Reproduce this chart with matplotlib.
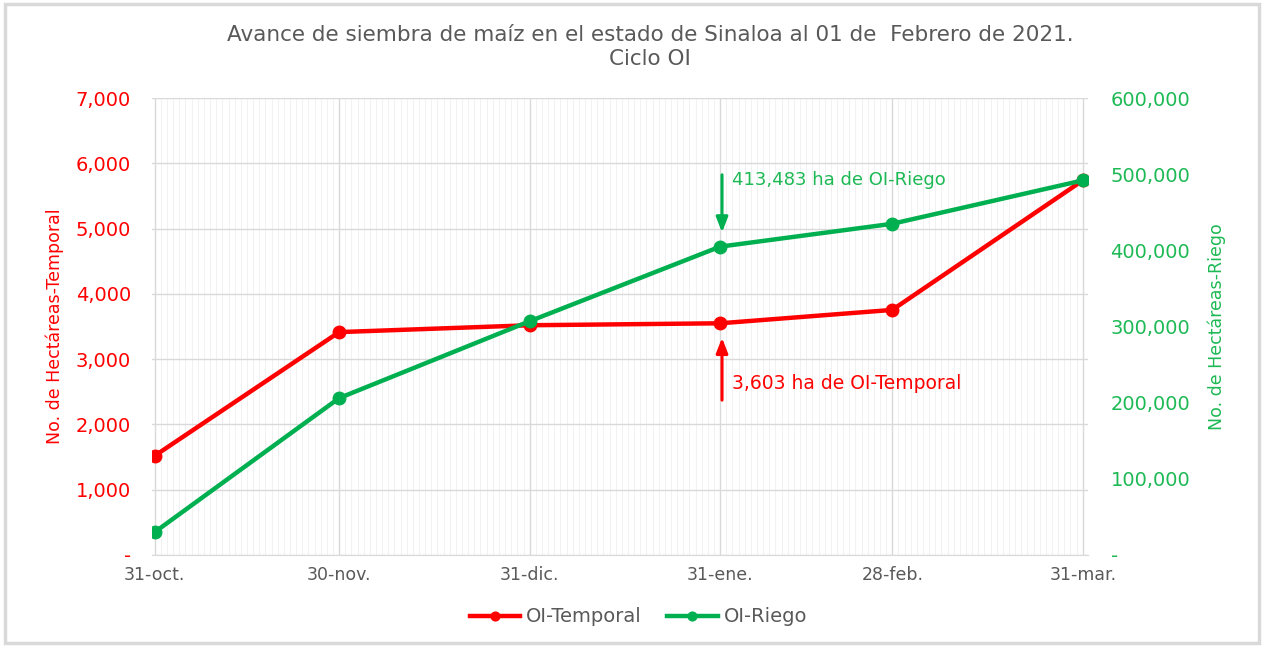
import matplotlib
matplotlib.use("Agg")
import matplotlib.pyplot as plt
import matplotlib.dates as mdates
import matplotlib.ticker as mticker
import numpy as np
import datetime as dt

plt.rcParams['font.family'] = ['DejaVu Sans']

fechas = ["2020-10-31", "2020-11-30", "2020-12-31", "2021-01-31", "2021-02-28", "2021-03-31"]
etiquetas_x = ["31-oct.", "30-nov.", "31-dic.", "31-ene.", "28-feb.", "31-mar."]
temporal = [1520, 3415, 3520, 3550, 3755, 5740]
riego = [30000, 206000, 307000, 405000, 435000, 492000]

RED = "#FF0000"
GREEN = "#00B050"
GREEN_T = "#1DB954"
GRAY_T = "#595959"

x = [dt.datetime.strptime(f, "%Y-%m-%d") for f in fechas]

fig = plt.figure(figsize=(12.64, 6.46), dpi=100)
fig.patches.append(plt.Rectangle((0.004, 0.004), 0.992, 0.99, transform=fig.transFigure,
                                 fill=False, edgecolor="#D9D9D9", linewidth=2.5))
ax = fig.add_axes([0.120, 0.141, 0.741, 0.707])
ax2 = ax.twinx()

ax.set_xlim(x[0] - dt.timedelta(days=0.5), x[-1] + dt.timedelta(days=0.9))
ax.set_xticks(x)
ax.set_xticklabels(etiquetas_x)
ax.xaxis.set_minor_locator(mdates.DayLocator())
ax.grid(which="minor", axis="x", color="#EFEFEF", linewidth=0.6)
ax.grid(which="major", axis="x", color="#D9D9D9", linewidth=1.0)
ax.grid(which="major", axis="y", color="#D9D9D9", linewidth=1.0)
ax.set_axisbelow(True)

ax.set_ylim(0, 7000)
ax.set_yticks(np.arange(0, 7001, 1000))
ax.yaxis.set_major_formatter(mticker.FuncFormatter(lambda v, p: "-" if v == 0 else f"{int(v):,}"))
ax2.set_ylim(0, 600000)
ax2.set_yticks(np.arange(0, 600001, 100000))
ax2.yaxis.set_major_formatter(mticker.FuncFormatter(lambda v, p: "-" if v == 0 else f"{int(v):,}"))

for a in (ax, ax2):
    for s in a.spines.values():
        s.set_visible(False)
ax.spines["bottom"].set_visible(True)
ax.spines["bottom"].set_color("#D9D9D9")
ax.tick_params(axis="x", which="both", length=0, colors=GRAY_T, labelsize=12.5, pad=8)
ax.tick_params(axis="y", length=0, colors=RED, labelsize=14, pad=15)
ax2.tick_params(axis="y", length=0, colors=GREEN_T, labelsize=14, pad=16)

l1, = ax.plot(x, temporal, color=RED, linewidth=3.2, marker="o", markersize=9, label="OI-Temporal", zorder=5)
l2, = ax2.plot(x, riego, color=GREEN, linewidth=3.2, marker="o", markersize=9, label="OI-Riego", zorder=5)

ax.set_ylabel("No. de Hectáreas-Temporal", color=RED, fontsize=12.5, labelpad=8)
ax2.set_ylabel("No. de Hectáreas-Riego", color=GREEN_T, fontsize=12.5, labelpad=12)

ax.set_title("Avance de siembra de maíz en el estado de Sinaloa al 01 de  Febrero de 2021.\nCiclo OI",
             color=GRAY_T, fontsize=15.5, pad=24, linespacing=1.25, x=0.532)

xa = x[3] + dt.timedelta(days=0.3)
ax2.annotate("", xy=(xa, 420000), xytext=(xa, 503000),
             arrowprops=dict(arrowstyle="-|>,head_length=0.9,head_width=0.35", color=GREEN, lw=2.2))
ax2.text(x[3] + dt.timedelta(days=2), 492000, "413,483 ha de OI-Riego", color=GREEN_T,
         fontsize=13, va="center", ha="left")
ax.annotate("", xy=(xa, 3370), xytext=(xa, 2330),
            arrowprops=dict(arrowstyle="-|>,head_length=0.9,head_width=0.35", color=RED, lw=2.2))
ax.text(x[3] + dt.timedelta(days=2), 2630, "3,603 ha de OI-Temporal", color=RED,
        fontsize=13.5, va="center", ha="left")

fig.legend(handles=[l1, l2], loc="center", bbox_to_anchor=(0.505, 0.045), ncol=2, frameon=False,
           fontsize=14, labelcolor=GRAY_T, handlelength=2.6, columnspacing=1.3, handletextpad=0.3,
           markerscale=0.7)

fig.savefig("out.png", dpi=100)
